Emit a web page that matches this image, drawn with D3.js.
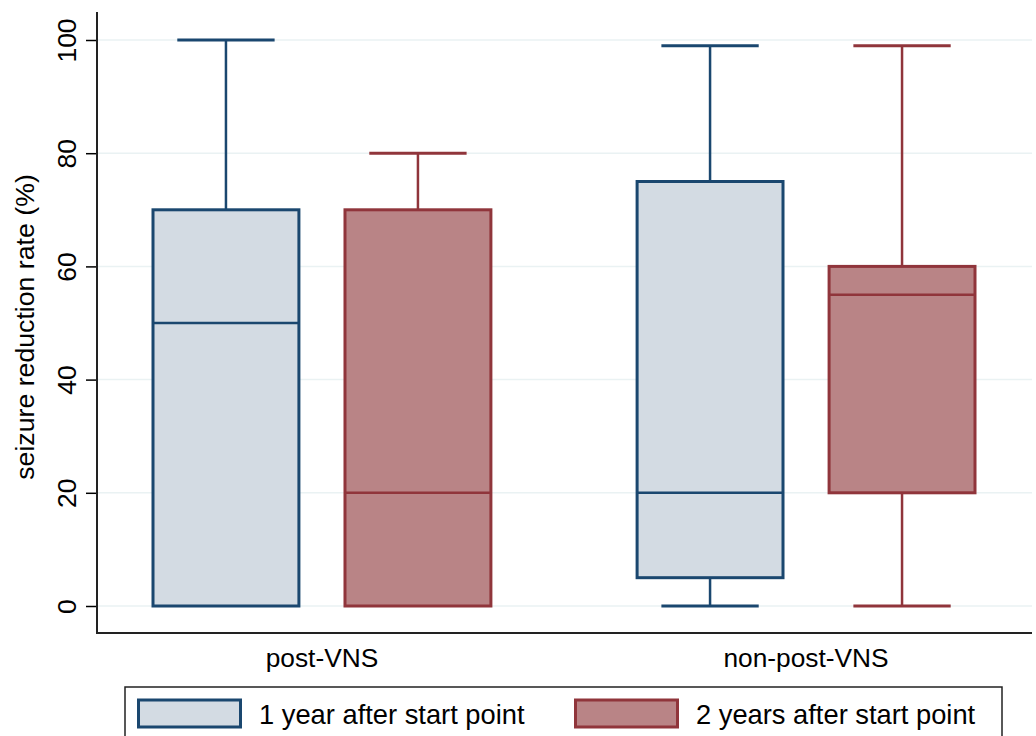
<!DOCTYPE html>
<html><head><meta charset="utf-8">
<script src="https://cdn.jsdelivr.net/npm/d3@7"></script>
<style>body{margin:0;background:#fff}svg{display:block;font-family:"Liberation Sans",Arial,sans-serif}</style>
</head><body>
<svg id="c" width="1036" height="736"></svg>
<script>
const categories = ["post-VNS", "non-post-VNS"];
const seriesNames = ["1 year after start point", "2 years after start point"];
// [min, q1, median, q3, max] per category
const year1 = [[0, 0, 50, 70, 100], [0, 5, 20, 75, 99]];
const year2 = [[0, 0, 20, 70, 80], [0, 20, 55, 60, 99]];
const yTicks = [0, 20, 40, 60, 80, 100];

const strokeCols = ["#1a476f", "#90353b"];
const fillCols = ["#d3dbe3", "#b98486"];
const series = [year1, year2];

const svg = d3.select("#c");
const pLeft = 97, pRight = 1032, pTop = 12, pBottom = 633;
const y = d3.scaleLinear().domain([0, 100]).range([606, 40]);
const x0 = d3.scaleBand().domain(categories).range([153, 975]).paddingInner(0.302).paddingOuter(0);
const x1 = d3.scaleBand().domain(d3.range(series.length)).range([0, x0.bandwidth()]).paddingInner(0.24).paddingOuter(0);

// grid
svg.append("g").selectAll("line").data(yTicks).join("line")
  .attr("x1", pLeft + 1).attr("x2", pRight)
  .attr("y1", d => y(d)).attr("y2", d => y(d))
  .attr("stroke", "#eaf2f3").attr("stroke-width", 1.5);

// y axis
const yAxis = d3.axisLeft(y).tickValues(yTicks).tickSize(11).tickPadding(0);
const ga = svg.append("g").attr("transform", `translate(${pLeft},0)`).call(yAxis);
ga.select(".domain").remove();
ga.selectAll(".tick line").attr("stroke", "#000").attr("stroke-width", 1.5);
ga.selectAll(".tick text").attr("font-size", 26.5).attr("fill", "#000")
  .attr("text-anchor", "middle").attr("x", 0).attr("dy", 0)
  .attr("transform", `translate(-21,0) rotate(-90)`);
svg.append("line").attr("x1", pLeft).attr("x2", pLeft).attr("y1", pTop).attr("y2", pBottom + 1)
  .attr("stroke", "#222").attr("stroke-width", 2);
svg.append("line").attr("x1", pLeft).attr("x2", pRight).attr("y1", pBottom).attr("y2", pBottom)
  .attr("stroke", "#222").attr("stroke-width", 2);

svg.append("text").attr("transform", `translate(34,${(y(0) + y(100)) / 2 + 4}) rotate(-90)`)
  .attr("text-anchor", "middle").attr("font-size", 26.7).attr("fill", "#000")
  .text("seizure reduction rate (%)");

// category labels
svg.append("g").selectAll("text").data(categories).join("text")
  .attr("x", d => x0(d) + x0.bandwidth() / 2).attr("y", 667)
  .attr("text-anchor", "middle").attr("font-size", 26.3).attr("fill", "#000").text(d => d);

// boxes
series.forEach((s, si) => {
  const g = svg.append("g");
  s.forEach((v, ci) => {
    const bx = x0(categories[ci]) + x1(si);
    const bw = x1.bandwidth();
    const cx = bx + bw / 2;
    const capW = bw * 0.667;
    const [mn, q1, md, q3, mx] = v;
    const sc = strokeCols[si];
    if (mx > q3) {
      g.append("line").attr("x1", cx).attr("x2", cx).attr("y1", y(q3)).attr("y2", y(mx)).attr("stroke", sc).attr("stroke-width", 2.5);
      g.append("line").attr("x1", cx - capW / 2).attr("x2", cx + capW / 2).attr("y1", y(mx)).attr("y2", y(mx)).attr("stroke", sc).attr("stroke-width", 3);
    }
    if (mn < q1) {
      g.append("line").attr("x1", cx).attr("x2", cx).attr("y1", y(q1)).attr("y2", y(mn)).attr("stroke", sc).attr("stroke-width", 2.5);
      g.append("line").attr("x1", cx - capW / 2).attr("x2", cx + capW / 2).attr("y1", y(mn)).attr("y2", y(mn)).attr("stroke", sc).attr("stroke-width", 3);
    }
    g.append("rect").attr("x", bx).attr("y", y(q3)).attr("width", bw).attr("height", y(q1) - y(q3))
      .attr("fill", fillCols[si]).attr("stroke", sc).attr("stroke-width", 3);
    g.append("line").attr("x1", bx).attr("x2", bx + bw).attr("y1", y(md)).attr("y2", y(md))
      .attr("stroke", sc).attr("stroke-width", 2.5);
  });
});

// legend
const lg = svg.append("g");
lg.append("rect").attr("x", 125).attr("y", 687).attr("width", 877).attr("height", 70)
  .attr("fill", "#fff").attr("stroke", "#222").attr("stroke-width", 1.5);
const legX = [137, 574];
seriesNames.forEach((n, i) => {
  lg.append("rect").attr("x", legX[i] + 1.5).attr("y", 700).attr("width", 102).attr("height", 27)
    .attr("fill", fillCols[i]).attr("stroke", strokeCols[i]).attr("stroke-width", 3);
  lg.append("text").attr("x", legX[i] + 122).attr("y", 724).attr("font-size", 27.3).attr("fill", "#000").text(n);
});
</script>
</body></html>
